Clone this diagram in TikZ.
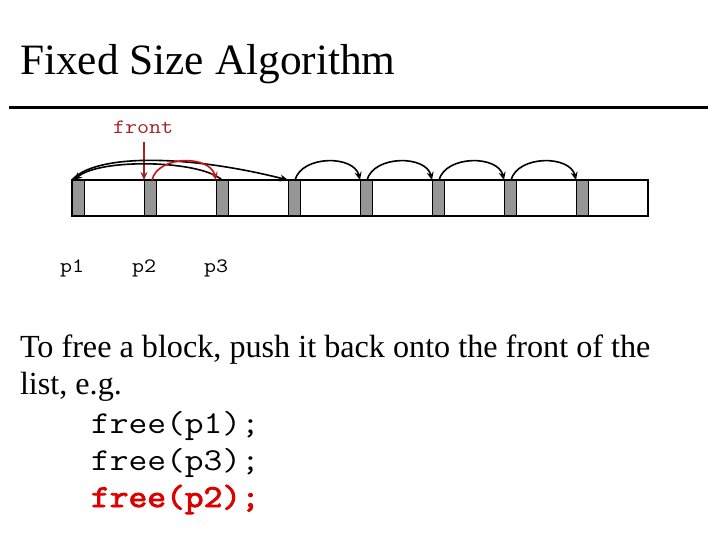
\documentclass[tikz,border=0pt]{standalone}
\usepackage{fontspec}
\setmainfont{Liberation Serif}
\newfontfamily\courfont[FakeStretch=1.143]{Latin Modern Mono}
\newfontfamily\courbold[FakeStretch=1.143,FakeBold=3]{Latin Modern Mono}
\usetikzlibrary{arrows.meta}
\definecolor{frontred}{RGB}{165,35,35}
\definecolor{arcred}{RGB}{200,20,20}
\definecolor{codered}{RGB}{220,0,0}
\definecolor{hdrgray}{RGB}{150,150,150}
\tikzset{
  txt/.style={anchor=base west, inner sep=0pt, outer sep=0pt},
  hdr/.style={anchor=north west, draw=black, line width=0.8bp, fill=hdrgray, minimum width=12bp, minimum height=36bp, inner sep=0pt, outer sep=0pt},
  link/.style={line width=1.6bp, -{Stealth[length=8bp,width=7bp]}},
  bigfont/.style={font=\fontsize{43.5}{50}\selectfont},
  bodyfont/.style={font=\fontsize{32.3}{38}\selectfont},
  codefont/.style={font=\fontsize{32}{38}\selectfont\courfont},
  boldcode/.style={font=\fontsize{32}{38}\selectfont\courbold},
  smallcode/.style={font=\fontsize{20.5}{24}\selectfont\courfont},
}
\begin{document}
\begin{tikzpicture}[x=1bp,y=-1bp]
\useasboundingbox (0,0) rectangle (720,540);
% title and rule
\node[txt,bigfont] (title) at (20,75) {Fixed Size Algorithm};
\coordinate (rl) at (9,108);
\coordinate (rr) at (708,108);
\draw[line width=3bp] (rl) -- (rr);
% headers
\foreach \i in {0,...,7}{
  \node[hdr] (h\i) at ({72+72*\i},180) {};
}
% bar outline
\node[anchor=north west, draw=black, line width=2.8bp, minimum width=576bp, minimum height=36bp, inner sep=0pt, outer sep=0pt] (bar) at (72,180) {};
% labels
\node[txt,smallcode,text=frontred] (front) at (113,134) {front};
\node[txt,smallcode] (p1) at (60,273) {p1};
\node[txt,smallcode] (p2) at (132,273) {p2};
\node[txt,smallcode] (p3) at (204,273) {p3};
% front pointer
\coordinate (fa) at (144,142);
\draw[link,draw=frontred,fill=frontred,line width=1.4bp] (fa) -- (h1.north west);
% black links
\draw[link] (h0.north west) .. controls (95,154) and (185,154) .. (h3.north west);
\draw[link] (h2.north) .. controls (200,160) and (100,158) .. ([xshift=2bp]h0.north west);
\foreach \i [evaluate=\i as \j using int(\i+1)] in {3,...,6}{
  \draw[link] ([xshift=1bp]h\i.north) .. controls ([xshift=8bp,yshift=25bp]h\i.north) and ([xshift=-6bp,yshift=25bp]h\j.north west) .. (h\j.north west);
}
% red link
\draw[link,draw=arcred] ([xshift=2bp]h1.north) .. controls (158,155) and (210,155) .. (h2.north west);
% body text
\node[txt,bodyfont] (l1) at (20,357) {To free a block, push it back onto the front of the};
\node[txt,bodyfont] (l2) at (20,394) {list, e.g.};
\node[txt,codefont] (c1) at (91,433) {free(p1);};
\node[txt,codefont] (c2) at (91,470) {free(p3);};
\node[txt,boldcode,text=codered] (c3) at (91,507) {free(p2);};
\end{tikzpicture}
\end{document}
